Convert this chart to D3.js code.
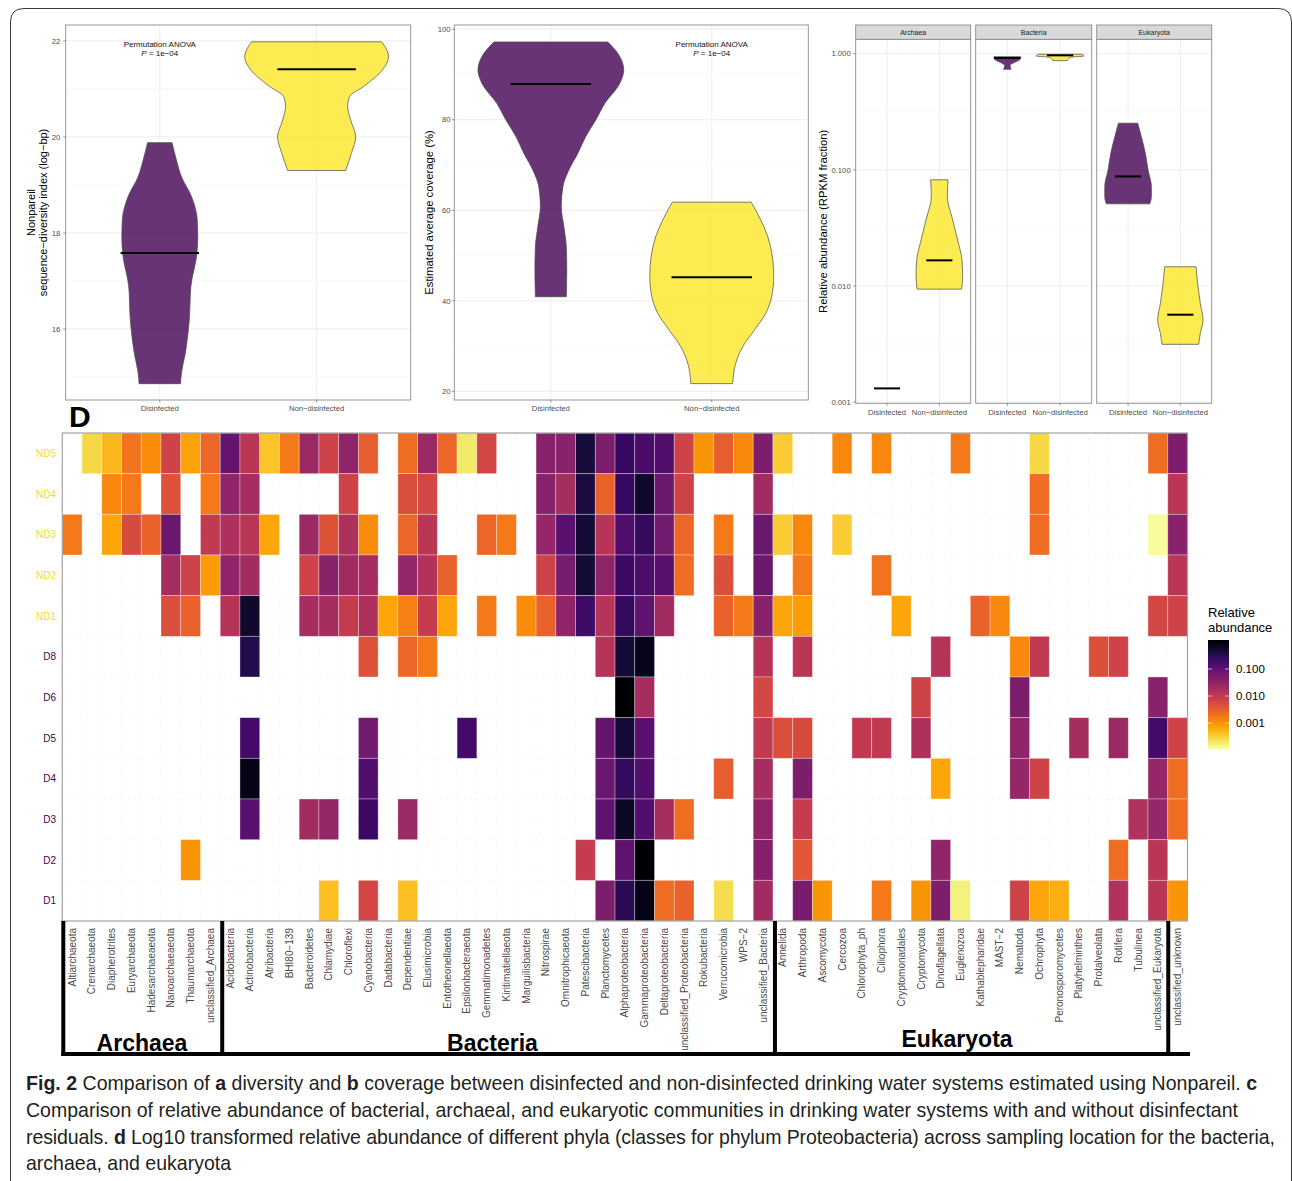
<!DOCTYPE html>
<html>
<head>
<meta charset="utf-8">
<script src="https://cdn.jsdelivr.net/npm/d3@7"></script>
<style>
  body { margin: 0; background: #fff; }
  svg { display: block; }
  text { font-family: "Liberation Sans", Arial, Helvetica, sans-serif; }
</style>
</head>
<body>
<svg id="fig" width="1292" height="1181"></svg>
<script>
// ---------------- data ----------------
const groups = ["Disinfected", "Non\u2212disinfected"];
const groupColors = ["#440154", "#FDE725"];

// a: Nonpareil diversity — violin outline (value, half-width in category units)
const divDisValues = [19.88, 19.52, 19.17, 18.76, 18.27, 17.9, 17.55, 16.88, 16.19, 15.5, 15.08, 14.86];
const divDisWidths = [0.078, 0.106, 0.138, 0.202, 0.239, 0.242, 0.236, 0.198, 0.188, 0.163, 0.138, 0.132];
const divNonValues = [21.98, 21.67, 21.4, 21.05, 20.84, 20.63, 20.35, 20.0, 19.67, 19.3];
const divNonWidths = [0.415, 0.459, 0.421, 0.30, 0.21, 0.198, 0.217, 0.249, 0.223, 0.185];
const divMedians = [17.58, 21.41];

// b: estimated average coverage (%)
const covDisValues = [97.2, 94.7, 91.0, 88.1, 83.6, 80.0, 76.3, 72.6, 68.9, 65.2, 60.8, 56.4, 52.0, 46.8, 40.9];
const covDisWidths = [0.354, 0.416, 0.453, 0.429, 0.335, 0.280, 0.217, 0.168, 0.112, 0.075, 0.065, 0.081, 0.096, 0.099, 0.096];
const covNonValues = [61.8, 57.9, 54.2, 50.6, 45.4, 41.0, 37.2, 33.5, 29.9, 26.2, 21.7];
const covNonWidths = [0.245, 0.304, 0.348, 0.373, 0.385, 0.373, 0.335, 0.264, 0.193, 0.149, 0.130];
const covMedians = [87.9, 45.2];

// c: relative abundance (RPKM fraction) by domain
const domains = ["Archaea", "Bacteria", "Eukaryota"];
const archNonValues = [0.082, 0.0589, 0.0372, 0.0248, 0.0166, 0.0120, 0.00938];
const archNonWidths = [0.166, 0.153, 0.254, 0.35, 0.434, 0.446, 0.426];
const archMedians = [0.00131, 0.0166];
const bacDisValues = [0.942, 0.895, 0.838, 0.794, 0.734];
const bacDisWidths = [0.254, 0.243, 0.128, 0.052, 0.071];
const bacNonValues = [0.989, 0.955, 0.931, 0.895, 0.871];
const bacNonWidths = [0.415, 0.453, 0.191, 0.153, 0.140];
const bacMedians = [0.918, 0.968];
const eukDisValues = [0.252, 0.193, 0.139, 0.100, 0.0718, 0.0589, 0.0509];
const eukDisWidths = [0.185, 0.254, 0.331, 0.382, 0.446, 0.446, 0.415];
const eukNonValues = [0.01462, 0.00984, 0.00708, 0.00508, 0.00391, 0.00314];
const eukNonWidths = [0.30, 0.338, 0.382, 0.434, 0.382, 0.35];
const eukMedians = [0.0877, 0.00565];

// d: log10 relative abundance heatmap
const archaeaPhyla = ["Altiarchaeota", "Crenarchaeota", "Diapherotrites", "Euryarchaeota", "Hadesarchaeaeota",
  "Nanoarchaeaeota", "Thaumarchaeota", "unclassified_Archaea"];
const bacteriaPhyla = ["Acidobacteria", "Actinobacteria", "Atribacteria", "BHI80\u2212139", "Bacteroidetes", "Chlamydiae",
  "Chloroflexi", "Cyanobacteria", "Dadabacteria", "Dependentiae", "Elusimicrobia", "Entotheonellaeota",
  "Epsilonbacteraeota", "Gemmatimonadetes", "Kiritimatiellaeota", "Marguilisbacteria", "Nitrospirae",
  "Omnitrophicaeota", "Patescibacteria", "Planctomycetes", "Alphaproteobacteria", "Gammaproteobacteria",
  "Deltaproteobacteria", "unclassified_Proteobacteria", "Rokubacteria", "Verrucomicrobia", "WPS\u22122",
  "unclassified_Bacteria"];
const eukaryotaPhyla = ["Annelida", "Arthropoda", "Ascomycota", "Cercozoa", "Chlorophyta_ph", "Ciliophora",
  "Cryptomonadales", "Cryptomycota", "Dinoflagellata", "Euglenozoa", "Kathablepharidae", "MAST\u22122",
  "Nematoda", "Ochrophyta", "Peronosporomycetes", "Platyhelminthes", "Protalveolata", "Rotifera",
  "Tubulinea", "unclassified_Eukaryota", "unclassified_unknown"];
const sites = ["ND5", "ND4", "ND3", "ND2", "ND1", "D8", "D6", "D5", "D4", "D3", "D2", "D1"];

const _ = null; // not detected
// each row: 8 archaea | 28 bacteria | 21 eukaryota (log10 relative abundance)
const nd5 = [
  _, -3.56, -3.30, -2.71, -2.95, -2.15, -3.12, -2.59,
  -1.08, -1.94, -3.40, -2.77, -1.62, -2.15, -1.5, -2.49, _, -2.65, -1.62, -2.59, -3.72, -2.21, _, _, -1.44, -1.44, -0.35, -1.33, -0.64, -0.82, -0.9, -2.15, -3.01, -2.49, -2.89, -1.33,
  -3.46, _, _, -2.89, _, -2.89, _, _, _, -2.77, _, _, _, -3.56, _, _, _, _, _, -2.65, -1.33];
const nd4 = [
  _, _, -2.89, -2.77, _, -2.37, _, -2.77,
  -1.5, -1.74, _, _, _, _, -2.15, _, _, -2.32, -2.21, _, _, _, _, _, -1.44, -1.74, -0.4, -2.54, -0.64, -0.25, -1.14, -2.15, _, _, _, -1.68,
  _, _, _, _, _, _, _, _, _, _, _, _, _, -2.65, _, _, _, _, _, _, -1.94];
const nd3 = [
  -2.77, _, -3.17, -2.27, -2.54, -1.14, _, -2.0,
  -1.79, -1.94, -3.17, _, -1.62, -2.37, -1.79, -2.95, _, -2.59, -1.94, _, _, -2.59, -2.77, _, -1.56, -0.96, -0.32, -1.89, -0.9, -0.62, -1.21, -2.59, _, -2.77, _, -1.14,
  -3.46, -2.89, _, -3.46, _, _, _, _, _, _, _, _, _, -2.65, _, _, _, _, _, -3.92, -1.44];
const nd2 = [
  _, _, _, _, _, -1.74, -2.15, -3.07,
  -1.5, -1.68, _, _, -2.15, -1.44, -1.68, -1.74, _, -1.56, -1.84, -2.54, _, _, _, _, -2.15, -1.28, -0.32, -1.5, -0.7, -0.84, -0.96, -2.65, _, -2.32, _, -1.14,
  _, -2.77, _, _, _, -2.71, _, _, _, _, _, _, _, _, _, _, _, _, _, _, -1.94];
const nd1 = [
  _, _, _, _, _, -2.32, -2.54, _,
  -1.89, -0.25, _, _, -1.74, -1.74, -2.05, -1.79, -3.17, -2.83, -2.05, -3.17, _, -2.77, _, -2.95, -2.54, -1.5, -0.73, -1.89, -0.62, -1.02, -1.68, _, _, -2.54, -2.77, -1.44,
  -3.17, -3.07, _, _, _, _, -3.17, _, _, _, -2.54, -2.89, _, _, _, _, _, _, _, -2.21, -2.15];
const d8 = [
  _, _, _, _, _, _, _, _,
  _, -0.45, _, _, _, _, _, -2.37, _, -2.59, -2.77, _, _, _, _, _, _, _, _, -1.89, -0.32, -0.12, _, _, _, _, _, -1.89,
  _, -1.94, _, _, _, _, _, _, -1.89, _, _, _, -2.89, -2.0, _, _, -2.32, -2.15, _, _, _];
const d6 = [
  _, _, _, _, _, _, _, _,
  _, _, _, _, _, _, _, _, _, _, _, _, _, _, _, _, _, _, _, _, 0.05, -1.74, _, _, _, _, _, -2.21,
  _, _, _, _, _, _, _, -2.15, _, _, _, _, -1.33, _, _, _, _, _, _, -1.44, _];
const d5 = [
  _, _, _, _, _, _, _, _,
  _, -0.78, _, _, _, _, _, -1.21, _, _, _, _, -0.78, _, _, _, _, _, _, -1.08, -0.32, -0.96, _, _, _, _, _, -2.0,
  -2.32, -2.27, _, _, -2.0, -2.0, _, -1.79, _, _, _, _, -1.5, _, _, -1.74, _, -1.62, _, -0.78, -2.15];
const d4 = [
  _, _, _, _, _, _, _, _,
  _, -0.1, _, _, _, _, _, -0.9, _, _, _, _, _, _, _, _, _, _, _, -1.14, -0.62, -0.9, _, _, _, -2.49, _, -1.74,
  _, -1.33, _, _, _, _, _, _, -3.17, _, _, _, -1.56, -2.15, _, _, _, _, _, -1.56, -2.65];
const d3r = [
  _, _, _, _, _, _, _, _,
  _, -0.96, _, _, -1.68, -1.56, _, -0.67, _, -1.62, _, _, _, _, _, _, _, _, _, -1.02, -0.2, -0.9, -1.74, -2.65, _, _, _, -1.5,
  _, -2.05, _, _, _, _, _, _, _, _, _, _, _, _, _, _, _, _, -1.84, -1.56, -2.65];
const d2 = [
  _, _, _, _, _, _, -3.01, _,
  _, _, _, _, _, _, _, _, _, _, _, _, _, _, _, _, _, _, -2.05, _, -1.02, 0.05, _, _, _, _, _, -1.38,
  _, -2.43, _, _, _, _, _, _, -1.5, _, _, _, _, _, _, _, _, -2.65, _, -1.94, _];
const d1 = [
  _, _, _, _, _, _, _, _,
  _, _, _, _, _, -3.35, _, -2.21, _, -3.35, _, _, _, _, _, _, _, _, _, -1.33, -0.51, -0.1, -2.65, -2.54, _, -3.6, _, -1.68,
  _, -1.28, -3.01, _, _, -2.77, _, -3.01, -1.33, -3.80, _, _, -2.15, -3.17, -3.23, _, _, -1.84, _, -1.94, -3.01];
const heatRows = [nd5, nd4, nd3, nd2, nd1, d8, d6, d5, d4, d3r, d2, d1];
const colourRange = [0.07, -3.96];           // log10 extent of the colour bar (dark -> light)
const legendTicks = [-1, -2, -3];
const legendLabels = ["0.100", "0.010", "0.001"];

// ---------------- drawing ----------------
const svg = d3.select("#fig");
const gridMajor = "#ebebeb", gridMinor = "#f4f4f4";
const tickCol = "#4d4d4d";

function violin(g, x, y, cx, values, widths, color) {
  const pts = values.map((v, i) => ({ v, w: widths[i] }));
  const step = x.step();
  const area = d3.area().curve(d3.curveMonotoneY)
    .y(d => y(d.v)).x0(d => cx - d.w * step).x1(d => cx + d.w * step);
  g.append("path").attr("d", area(pts))
    .attr("fill", color).attr("fill-opacity", 0.8)
    .attr("stroke", "#474747").attr("stroke-width", 0.7);
}
function median(g, x, y, cx, v) {
  const hw = 0.25 * x.step();
  g.append("line").attr("x1", cx - hw).attr("x2", cx + hw)
    .attr("y1", y(v)).attr("y2", y(v)).attr("stroke", "#000").attr("stroke-width", 2);
}
function frame(g, x0, x1, y0, y1) {
  g.append("rect").attr("x", x0).attr("y", y0).attr("width", x1 - x0).attr("height", y1 - y0)
    .attr("fill", "none").attr("stroke", "#8c8c8c").attr("stroke-width", 0.9);
}
function panelGrid(g, x, y, x0, x1, y0, y1, majors, minors) {
  minors.forEach(v => g.append("line").attr("x1", x0).attr("x2", x1).attr("y1", y(v)).attr("y2", y(v))
    .attr("stroke", gridMinor).attr("stroke-width", 0.6));
  majors.forEach(v => g.append("line").attr("x1", x0).attr("x2", x1).attr("y1", y(v)).attr("y2", y(v))
    .attr("stroke", gridMajor).attr("stroke-width", 0.9));
  x.domain().forEach(c => g.append("line").attr("x1", x(c)).attr("x2", x(c)).attr("y1", y0).attr("y2", y1)
    .attr("stroke", gridMajor).attr("stroke-width", 0.9));
}
function yTicks(g, y, x0, majors, fmt, gap) {
  majors.forEach(v => {
    g.append("line").attr("x1", x0 - 2.5).attr("x2", x0).attr("y1", y(v)).attr("y2", y(v))
      .attr("stroke", "#555").attr("stroke-width", 0.6);
    g.append("text").attr("x", x0 - gap).attr("y", y(v)).attr("dy", "0.35em")
      .attr("text-anchor", "end").attr("font-size", 7.7).attr("fill", tickCol).text(fmt(v));
  });
}
function xTicks(g, x, y1, labelY) {
  x.domain().forEach(c => {
    g.append("line").attr("x1", x(c)).attr("x2", x(c)).attr("y1", y1).attr("y2", y1 + 2.5)
      .attr("stroke", "#555").attr("stroke-width", 0.6);
    g.append("text").attr("x", x(c)).attr("y", labelY).attr("text-anchor", "middle")
      .attr("font-size", 7.7).attr("fill", tickCol).text(c);
  });
}
function yTitle(g, lines, xs, cy, size) {
  lines.forEach((t, i) => g.append("text").attr("transform", `translate(${xs[i]},${cy}) rotate(-90)`)
    .attr("text-anchor", "middle").attr("font-size", size).attr("fill", "#000").text(t));
}
function anovaNote(g, cx, y) {
  g.append("text").attr("x", cx).attr("y", y).attr("text-anchor", "middle").attr("font-size", 8)
    .attr("fill", "#111").text("Permutation ANOVA");
  const t = g.append("text").attr("x", cx).attr("y", y + 9.7).attr("text-anchor", "middle")
    .attr("font-size", 8).attr("fill", "#111");
  t.append("tspan").attr("font-style", "italic").text("P");
  t.append("tspan").text(" = 1e\u221204");
}

// ---- panel a ----
{
  const g = svg.append("g");
  const L = 65.7, R = 410.7, T = 25, B = 400;
  const x = d3.scalePoint().domain(groups).range([L, R]).padding(0.6);
  const y = d3.scaleLinear().domain([14.52, 22.33]).range([B, T]);
  panelGrid(g, x, y, L, R, T, B, [16, 18, 20, 22], [15, 17, 19, 21]);
  violin(g, x, y, x(groups[0]), divDisValues, divDisWidths, groupColors[0]);
  violin(g, x, y, x(groups[1]), divNonValues, divNonWidths, groupColors[1]);
  groups.forEach((c, i) => median(g, x, y, x(c), divMedians[i]));
  frame(g, L, R, T, B);
  yTicks(g, y, L, [16, 18, 20, 22], d3.format("d"), 5.5);
  xTicks(g, x, B, 410.5);
  yTitle(g, ["Nonpareil", "sequence\u2212diversity index (log\u2212bp)"], [34.5, 47], (T + B) / 2, 11);
  anovaNote(g, x(groups[0]), 46.5);
}

// ---- panel b ----
{
  const g = svg.append("g");
  const L = 454.3, R = 808.3, T = 25, B = 400;
  const x = d3.scalePoint().domain(groups).range([L, R]).padding(0.6);
  const y = d3.scaleLinear().domain([18.08, 100.95]).range([B, T]);
  panelGrid(g, x, y, L, R, T, B, [20, 40, 60, 80, 100], [30, 50, 70, 90]);
  violin(g, x, y, x(groups[0]), covDisValues, covDisWidths, groupColors[0]);
  violin(g, x, y, x(groups[1]), covNonValues, covNonWidths, groupColors[1]);
  groups.forEach((c, i) => median(g, x, y, x(c), covMedians[i]));
  frame(g, L, R, T, B);
  yTicks(g, y, L, [20, 40, 60, 80, 100], d3.format("d"), 3.8);
  xTicks(g, x, B, 410.5);
  yTitle(g, ["Estimated average coverage (%)"], [433], (T + B) / 2, 11.3);
  anovaNote(g, x(groups[1]), 46.5);
}

// ---- panel c ----
{
  const g = svg.append("g");
  const facets = [[855.7, 970.7], [975.7, 1091.7], [1096.7, 1211.7]];
  const sT = 25, T = 39.3, B = 403.3;
  const y = d3.scaleLog().domain([Math.pow(10, -3.011), Math.pow(10, 0.124)]).range([B, T]);
  const majors = [0.001, 0.01, 0.1, 1], minors = [0.00316, 0.0316, 0.316];
  const shapes = [
    [null, [archNonValues, archNonWidths]],
    [[bacDisValues, bacDisWidths], [bacNonValues, bacNonWidths]],
    [[eukDisValues, eukDisWidths], [eukNonValues, eukNonWidths]]
  ];
  const meds = [archMedians, bacMedians, eukMedians];
  facets.forEach(([L, R], k) => {
    const x = d3.scalePoint().domain(groups).range([L, R]).padding(0.6);
    panelGrid(g, x, y, L, R, T, B, majors, minors);
    shapes[k].forEach((s, i) => { if (s) violin(g, x, y, x(groups[i]), s[0], s[1], groupColors[i]); });
    groups.forEach((c, i) => median(g, x, y, x(c), meds[k][i]));
    frame(g, L, R, T, B);
    g.append("rect").attr("x", L).attr("y", sT).attr("width", R - L).attr("height", T - sT)
      .attr("fill", "#d9d9d9").attr("stroke", "#8c8c8c").attr("stroke-width", 0.9);
    g.append("text").attr("x", (L + R) / 2).attr("y", (sT + T) / 2).attr("dy", "0.35em")
      .attr("text-anchor", "middle").attr("font-size", 7).attr("fill", "#1a1a1a").text(domains[k]);
    xTicks(g, x, B, 415.3);
    if (k === 0) yTicks(g, y, L, majors, d3.format(".3f"), 5);
  });
  yTitle(g, ["Relative abundance (RPKM fraction)"], [827], (T + B) / 2, 11.3);
}

// ---- panel d: heatmap ----
{
  const g = svg.append("g");
  const L = 62.3, R = 1187.5, T = 433, B = 921;
  const phyla = archaeaPhyla.concat(bacteriaPhyla, eukaryotaPhyla);
  const x = d3.scaleBand().domain(phyla).range([L, R]);
  const y = d3.scaleBand().domain(sites).range([T, B]);
  const colour = d3.scaleSequential(d3.interpolateInferno).domain(colourRange);

  g.append("text").attr("x", 69).attr("y", 427).attr("font-size", 30).attr("font-weight", "bold")
    .attr("fill", "#000").text("D");

  // faint dotted grid
  d3.range(1, sites.length).forEach(i => g.append("line").attr("x1", L).attr("x2", R)
    .attr("y1", T + i * y.step()).attr("y2", T + i * y.step())
    .attr("stroke", "#d8d8d8").attr("stroke-width", 0.5).attr("stroke-dasharray", "1,5"));
  d3.range(1, phyla.length).forEach(i => g.append("line").attr("y1", T).attr("y2", B)
    .attr("x1", L + i * x.step()).attr("x2", L + i * x.step())
    .attr("stroke", "#d8d8d8").attr("stroke-width", 0.5).attr("stroke-dasharray", "1,5"));

  const cells = [];
  heatRows.forEach((row, r) => row.forEach((v, c) => {
    if (v !== null) cells.push({ site: sites[r], phylum: phyla[c], v });
  }));
  g.selectAll("rect.cell").data(cells).join("rect").attr("class", "cell")
    .attr("x", d => x(d.phylum)).attr("y", d => y(d.site))
    .attr("width", x.bandwidth()).attr("height", y.bandwidth())
    .attr("fill", d => colour(d.v))
    .attr("stroke", "#fff").attr("stroke-opacity", 0.4).attr("stroke-width", 0.8);

  g.append("rect").attr("x", L).attr("y", T).attr("width", R - L).attr("height", B - T)
    .attr("fill", "none").attr("stroke", "#a3a3a3").attr("stroke-width", 1.2);

  // site labels
  sites.forEach(s => g.append("text").attr("x", 56).attr("y", y(s) + y.bandwidth() / 2).attr("dy", "0.35em")
    .attr("text-anchor", "end").attr("font-size", 10)
    .attr("fill", s.startsWith("ND") ? "#f2dc1e" : "#440154").text(s));

  // phylum labels
  phyla.forEach(p => g.append("text")
    .attr("transform", `translate(${x(p) + x.bandwidth() / 2},${B + 7}) rotate(-90)`)
    .attr("dy", "0.35em").attr("text-anchor", "end").attr("font-size", 10).attr("fill", "#4a4a4a").text(p));

  // domain brackets
  const br = g.append("g").attr("stroke", "#000").attr("stroke-width", 4).attr("fill", "none");
  const bY = 1054;
  [L + 1, x(bacteriaPhyla[0]) + 2, x(eukaryotaPhyla[0]) + 2, x("unclassified_unknown") + 0.5].forEach(xx =>
    br.append("line").attr("x1", xx).attr("x2", xx).attr("y1", B).attr("y2", bY + 2));
  br.append("line").attr("x1", L - 1).attr("x2", R + 2.5).attr("y1", bY).attr("y2", bY);
  [["Archaea", 142, 1050.5], ["Bacteria", 492.5, 1050.5], ["Eukaryota", 957, 1047]].forEach(([t, cx, by]) =>
    g.append("text").attr("x", cx).attr("y", by).attr("text-anchor", "middle")
      .attr("font-size", 23).attr("font-weight", "bold").attr("fill", "#000").text(t));

  // colour bar legend
  const lx = 1208, lw = 21, lt = 640, lb = 749;
  const ly = d3.scaleLinear().domain(colourRange).range([lt, lb]);
  const grad = svg.append("defs").append("linearGradient").attr("id", "abund")
    .attr("x1", 0).attr("x2", 0).attr("y1", 0).attr("y2", 1);
  d3.range(0, 1.0001, 0.05).forEach(t => grad.append("stop").attr("offset", t)
    .attr("stop-color", colour(colourRange[0] + t * (colourRange[1] - colourRange[0]))));
  g.append("rect").attr("x", lx).attr("y", lt).attr("width", lw).attr("height", lb - lt).attr("fill", "url(#abund)");
  legendTicks.forEach((v, i) => {
    [[lx, lx + 4], [lx + lw - 4, lx + lw]].forEach(([a, b]) => g.append("line")
      .attr("x1", a).attr("x2", b).attr("y1", ly(v)).attr("y2", ly(v))
      .attr("stroke", "#fff").attr("stroke-opacity", 0.8).attr("stroke-width", 0.8));
    g.append("text").attr("x", 1236).attr("y", ly(v)).attr("dy", "0.35em").attr("font-size", 11.5)
      .attr("fill", "#000").text(legendLabels[i]);
  });
  g.append("text").attr("x", lx).attr("y", 617).attr("font-size", 13).attr("fill", "#000").text("Relative");
  g.append("text").attr("x", lx).attr("y", 632).attr("font-size", 13).attr("fill", "#000").text("abundance");
}

// ---- caption ----
{
  const lines = [
    { y: 1090, w: 1231, parts: [["Fig. 2", 1], [" Comparison of ", 0], ["a", 1], [" diversity and ", 0], ["b", 1],
      [" coverage between disinfected and non-disinfected drinking water systems estimated using Nonpareil. ", 0], ["c", 1]] },
    { y: 1117, w: 1212, parts: [["Comparison of relative abundance of bacterial, archaeal, and eukaryotic communities in drinking water systems with and without disinfectant", 0]] },
    { y: 1144, w: 1249, parts: [["residuals. ", 0], ["d", 1],
      [" Log10 transformed relative abundance of different phyla (classes for phylum Proteobacteria) across sampling location for the bacteria,", 0]] },
    { y: 1170, w: null, parts: [["archaea, and eukaryota", 0]] }
  ];
  const g = svg.append("g");
  const els = lines.map(l => {
    const t = g.append("text").attr("x", 26).attr("y", l.y).attr("font-size", 18).attr("fill", "#231f20");
    l.parts.forEach(([s, b]) => t.append("tspan").attr("font-weight", b ? "bold" : null).text(s));
    return t;
  });
  const fs = 18 * 1212 / els[1].node().getComputedTextLength();
  els.forEach((t, i) => {
    t.attr("font-size", fs);
    if (lines[i].w) t.attr("textLength", lines[i].w).attr("lengthAdjust", "spacing");
  });
}

// outer figure frame
svg.append("path").attr("d", "M10.5,1181 V22 Q10.5,8.5 24,8.5 H1278 Q1291.5,8.5 1291.5,22 V1181")
  .attr("fill", "none").attr("stroke", "#3a3a3a").attr("stroke-width", 1);
</script>
</body>
</html>
